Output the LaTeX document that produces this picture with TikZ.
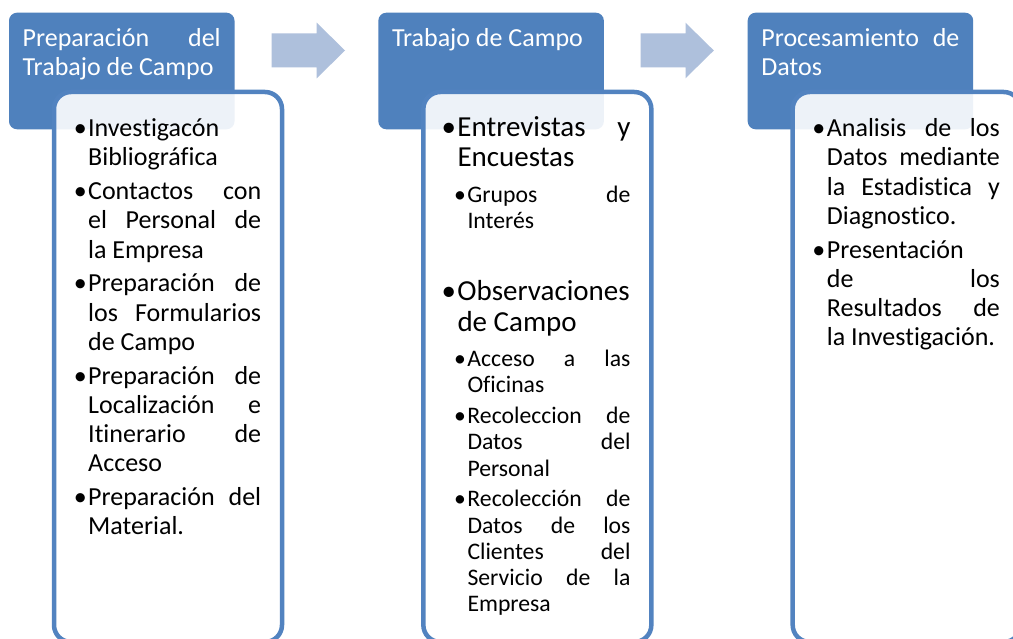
\documentclass[tikz,border=0pt]{standalone}
\usepackage{fontspec}
\setmainfont{Carlito}[Ligatures={NoCommon}]
\definecolor{hdrblue}{HTML}{4F81BD}
\definecolor{boxblue}{HTML}{5283C0}
\definecolor{arrowblue}{HTML}{AEC0DC}
\newcommand\jst[2]{\makebox[#1][s]{#2}}
\newcommand\bul{\llap{•\kern1.5pt}}
\tikzset{
  hdr/.style={fill=hdrblue, rounded corners=8pt, minimum width=225.5pt, minimum height=116.6pt, inner sep=0pt, outer sep=0pt},
  bodybox/.style={fill=white, fill opacity=0.9, draw=boxblue, draw opacity=1, line width=4.5pt, rounded corners=17pt, minimum width=228pt, minimum height=550pt, inner sep=0pt, outer sep=0pt},
  blockarrow/.style={fill=arrowblue},
  htxt/.style={anchor=base west, inner sep=0pt, text=white, font=\fontsize{26}{29}\selectfont},
  mtxt/.style={anchor=base west, inner sep=0pt, text=black, font=\fontsize{26}{29}\selectfont},
  btxt/.style={anchor=base west, inner sep=0pt, text=black, font=\fontsize{29}{32}\selectfont},
  stxt/.style={anchor=base west, inner sep=0pt, text=black, font=\fontsize{23.7}{26}\selectfont}
}
\begin{document}
\begin{tikzpicture}[x=1pt,y=-1pt]
\clip (0,0) rectangle (1013,639);
\fill[white] (0,0) rectangle (1013,639);
% headers
\node[hdr] (h1) at (121.75,71) {};
\node[hdr] (h2) at (491.10,71) {};
\node[hdr] (h3) at (860.45,71) {};
% arrows
\fill[blockarrow] (271.7,33.3) -- (316.7,33.3) -- (316.7,22.7) -- (345,50.5) -- (316.7,78.3) -- (316.7,67.3) -- (271.7,67.3) -- cycle;
\fill[blockarrow] (640.5,33.3) -- (685.5,33.3) -- (685.5,22.7) -- (713.8,50.5) -- (685.5,78.3) -- (685.5,67.3) -- (640.5,67.3) -- cycle;
% body boxes
\node[bodybox] (b1) at (168,367) {};
\node[bodybox] (b2) at (537.35,367) {};
\node[bodybox] (b3) at (906.7,367) {};
% header texts
\node[htxt] (t1a) at (22.5,46.5) {\jst{198pt}{Preparación del}};
\node[htxt] (t1b) at (22.5,76) {Trabajo de Campo};
\node[htxt] (t2a) at (391.85,46.5) {Trabajo de Campo};
\node[htxt] (t3a) at (761.2,46.5) {\jst{198pt}{Procesamiento de}};
\node[htxt] (t3b) at (761.2,76) {Datos};
% column 1
\node[mtxt] (a1) at (88,136.7) {\bul Investigacón};
\node[mtxt] (a2) at (88,165.9) {Bibliográfica};
\node[mtxt] (a3) at (88,199.7) {\bul\jst{173pt}{Contactos con}};
\node[mtxt] (a4) at (88,228.9) {\jst{173pt}{el Personal de}};
\node[mtxt] (a5) at (88,258.1) {la Empresa};
\node[mtxt] (a6) at (88,291.9) {\bul\jst{173pt}{Preparación de}};
\node[mtxt] (a7) at (88,321.1) {\jst{173pt}{los Formularios}};
\node[mtxt] (a8) at (88,350.3) {de Campo};
\node[mtxt] (a9) at (88,384.1) {\bul\jst{173pt}{Preparación de}};
\node[mtxt] (a10) at (88,413.3) {\jst{173pt}{Localización e}};
\node[mtxt] (a11) at (88,442.5) {\jst{173pt}{Itinerario de}};
\node[mtxt] (a12) at (88,471.7) {Acceso};
\node[mtxt] (a13) at (88,505.5) {\bul\jst{173pt}{Preparación del}};
\node[mtxt] (a14) at (88,534.7) {Material.};
% column 2
\node[btxt] (c1) at (457.3,136.7) {\bul\jst{173pt}{Entrevistas y}};
\node[btxt] (c2) at (457.3,166.7) {Encuestas};
\node[stxt] (c3) at (467.3,202.7) {\bul\jst{163pt}{Grupos de}};
\node[stxt] (c4) at (467.3,228.3) {Interés};
\node[btxt] (c5) at (457.3,300.7) {\bul Observaciones};
\node[btxt] (c6) at (457.3,331.7) {de Campo};
\node[stxt] (c7) at (467.3,366.7) {\bul\jst{163pt}{Acceso a las}};
\node[stxt] (c8) at (467.3,392.7) {Oficinas};
\node[stxt] (c9) at (467.3,423.3) {\bul\jst{163pt}{Recoleccion de}};
\node[stxt] (c10) at (467.3,449.7) {\jst{163pt}{Datos del}};
\node[stxt] (c11) at (467.3,476) {Personal};
\node[stxt] (c12) at (467.3,506.7) {\bul\jst{163pt}{Recolección de}};
\node[stxt] (c13) at (467.3,533) {\jst{163pt}{Datos de los}};
\node[stxt] (c14) at (467.3,559.3) {\jst{163pt}{Clientes del}};
\node[stxt] (c15) at (467.3,585.6) {\jst{163pt}{Servicio de la}};
\node[stxt] (c16) at (467.3,611.8) {Empresa};
% column 3
\node[mtxt] (d1) at (826.7,136.7) {\bul\jst{173pt}{Analisis de los}};
\node[mtxt] (d2) at (826.7,165.9) {\jst{173pt}{Datos mediante}};
\node[mtxt] (d3) at (826.7,195.1) {\jst{173pt}{la Estadistica y}};
\node[mtxt] (d4) at (826.7,224.3) {Diagnostico.};
\node[mtxt] (d5) at (826.7,258.1) {\bul Presentación};
\node[mtxt] (d6) at (826.7,287.3) {\jst{173pt}{de los}};
\node[mtxt] (d7) at (826.7,316.5) {\jst{173pt}{Resultados de}};
\node[mtxt] (d8) at (826.7,345.7) {la Investigación.};
\end{tikzpicture}
\end{document}
